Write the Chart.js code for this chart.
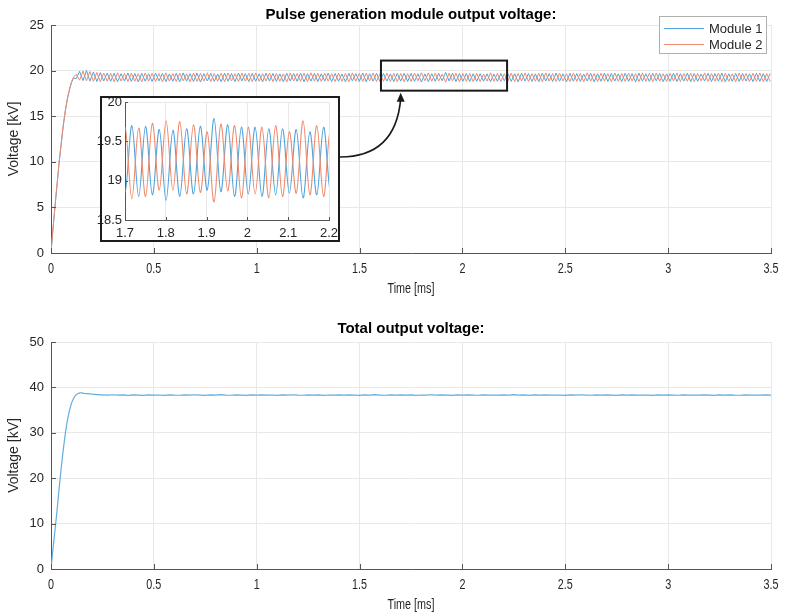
<!DOCTYPE html>
<html><head><meta charset="utf-8">
<script src="https://cdn.jsdelivr.net/npm/chart.js@4.4.1/dist/chart.umd.min.js"></script>
<style>
html,body{margin:0;padding:0;background:#fff;}
#wrap{position:relative;width:785px;height:615px;overflow:hidden;background:#fff;}
canvas{position:absolute;}
</style></head><body>
<div id="wrap">
<canvas id="top" width="785" height="307" style="left:0;top:0;width:785px;height:307px"></canvas>
<canvas id="bot" width="785" height="308" style="left:0;top:307px;width:785px;height:308px"></canvas>
<canvas id="ins" width="260" height="160" style="left:90px;top:90px;width:260px;height:160px"></canvas>
</div>
<script>
// ---------- DATA ----------
const seriesNames = ['Module 1', 'Module 2'];
const riseTime = [0, 0.01, 0.02, 0.03, 0.04, 0.05, 0.06, 0.07, 0.08, 0.09, 0.10, 0.11];
const module1Rise = [0, 2.7, 5.2, 7.6, 10.0, 12.0, 14.0, 15.6, 16.9, 17.9, 18.7, 19.2];
const module2Rise = [0, 2.8, 5.3, 7.7, 10.1, 12.1, 14.1, 15.7, 17.0, 18.0, 18.8, 19.3];
// steady state: one sample per half oscillation (peaks / troughs), starting at steadyStart
const steadyStart = 0.1221;
const steadyStep = 0.016786;
const module1Steady = [
19.10,19.92,18.90,20.02,18.84,19.85,18.80,19.78,18.86,19.72,
18.82,19.70,18.78,19.66,18.85,19.74,18.80,19.68,18.76,19.71,
18.84,19.65,18.81,19.73,18.87,19.69,18.79,19.64,18.83,19.70,
18.77,19.75,18.85,19.67,18.80,19.72,18.74,19.66,18.86,19.70,
18.82,19.63,18.78,19.71,18.84,19.68,18.80,19.74,18.87,19.66,
18.79,19.70,18.83,19.65,18.76,19.72,18.85,19.69,18.81,19.64,
18.78,19.71,18.86,19.67,18.82,19.73,18.77,19.66,18.84,19.70,
18.80,19.65,18.85,19.72,18.79,19.68,18.83,19.63,18.76,19.70,
18.86,19.67,18.81,19.74,18.78,19.66,18.84,19.71,18.80,19.68,
18.85,19.64,18.79,19.70,
18.85,19.70,18.80,19.69,18.82,19.65,18.75,19.64,18.80,19.66,
18.83,19.69,18.88,19.79,18.86,19.71,18.80,19.68,18.83,19.68,
18.80,19.66,18.82,19.66,18.84,19.65,18.78,19.62,18.82,19.68,
18.88,19.70,18.81,19.66,18.77,19.72,18.85,19.68,18.82,19.64,
18.79,19.71,18.86,19.67,18.80,19.73,18.83,19.65,18.77,19.70,
18.84,19.68,18.81,19.63,18.86,19.71,18.78,19.66,18.83,19.72,
18.80,19.69,18.85,19.64,18.79,19.70,18.82,19.67,18.76,19.73,
18.84,19.65,18.81,19.70,18.87,19.68,18.79,19.64,18.83,19.71,
18.80,19.66,18.85,19.72,18.78,19.68,18.82,19.63,18.86,19.70,
18.80,19.67,18.84,19.73,18.77,19.65,18.83,19.70,18.81,19.68,
18.85,19.64,18.79,19.71,18.82,19.66,18.80,19.69
];
const module2Steady = [
19.60,18.95,19.95,18.88,19.90,18.82,19.80,18.78,19.74,18.84,
19.70,18.80,19.76,18.86,19.68,18.79,19.72,18.83,19.66,18.77,
19.74,18.85,19.70,18.81,19.67,18.76,19.75,18.84,19.69,18.80,
19.72,18.87,19.65,18.78,19.73,18.82,19.70,18.85,19.76,18.79,
19.68,18.83,19.71,18.77,19.74,18.86,19.66,18.80,19.72,18.84,
19.69,18.78,19.75,18.82,19.67,18.85,19.73,18.79,19.70,18.83,
19.64,18.76,19.74,18.86,19.68,18.81,19.71,18.78,19.76,18.84,
19.69,18.80,19.73,18.85,19.66,18.79,19.72,18.82,19.70,18.77,
19.75,18.84,19.68,18.81,19.71,18.86,19.74,18.79,19.67,18.83,
19.72,18.80,19.69,18.78,
19.68,18.77,19.67,18.80,19.73,18.88,19.76,18.88,19.75,18.83,
19.71,18.85,19.62,18.73,19.72,18.87,19.70,18.78,19.68,18.83,
19.68,18.78,19.70,18.80,19.62,18.84,19.76,18.82,19.70,18.80,
19.66,18.82,19.72,18.78,19.69,18.85,19.74,18.80,19.67,18.83,
19.71,18.77,19.75,18.84,19.68,18.81,19.72,18.86,19.65,18.79,
19.73,18.82,19.70,18.76,19.76,18.84,19.68,18.80,19.71,18.85,
19.66,18.78,19.74,18.83,19.69,18.81,19.72,18.86,19.67,18.79,
19.75,18.82,19.70,18.77,19.73,18.84,19.66,18.80,19.71,18.85,
19.74,18.79,19.68,18.83,19.72,18.78,19.69,18.86,19.75,18.81,
19.67,18.84,19.72,18.79,19.70,18.82,19.65,18.77,19.73,18.85,
19.69,18.80,19.71,18.83,19.74,18.78,19.68,18.81
];
const totalRiseTime = [0, 0.01, 0.02, 0.03, 0.04, 0.05, 0.06, 0.07, 0.08, 0.09, 0.10, 0.11, 0.12, 0.13, 0.14, 0.15, 0.16];
const totalRise = [0, 4.6, 8.8, 13.2, 18.0, 22.4, 26.4, 30.0, 32.8, 35.0, 36.6, 37.6, 38.3, 38.6, 38.8, 38.8, 38.7];
const totalStart = 0.175;
const totalStep = 0.025;
const totalSteady = [
38.62,38.50,38.42,38.36,38.30,38.38,38.28,38.36,38.26,38.34,38.30,38.24,38.35,38.28,38.33,38.25,38.36,38.30,38.27,38.35,
38.29,38.38,38.31,38.26,38.36,38.30,38.40,38.32,38.27,38.37,38.31,38.25,38.34,38.29,38.36,38.28,38.33,38.26,38.35,38.30,
38.38,38.31,38.27,38.36,38.29,38.34,38.25,38.33,38.30,38.37,38.28,38.35,38.31,38.26,38.36,38.30,38.39,38.32,38.27,38.35,
38.30,38.37,38.29,38.34,38.26,38.33,38.31,38.38,38.28,38.35,38.30,38.25,38.34,38.29,38.37,38.31,38.27,38.36,38.30,38.33,
38.28,38.36,38.31,38.39,38.29,38.34,38.26,38.35,38.30,38.37,38.28,38.33,38.31,38.25,38.36,38.30,38.38,38.32,38.27,38.34,
38.29,38.36,38.31,38.26,38.35,38.30,38.37,38.28,38.33,38.30,38.24,38.34,38.29,38.36,38.31,38.27,38.35,38.30,38.33,38.28,
38.36,38.31,38.26,38.34,38.29,38.37,38.30,38.27,38.35,38.31,38.33,38.28,38.34,38.30
];
const xTicks = [0, 0.5, 1, 1.5, 2, 2.5, 3, 3.5];
const yTicksTop = [0, 5, 10, 15, 20, 25];
const yTicksBottom = [0, 10, 20, 30, 40, 50];
const insetXTicks = [1.7, 1.8, 1.9, 2, 2.1, 2.2];
const insetYTicks = [18.5, 19, 19.5, 20];
const zoomBox = {t0: 1.604, t1: 2.217, v0: 17.8, v1: 21.1};

// ---------- STYLE ----------
const FONT = '"Liberation Sans", Arial, Helvetica, sans-serif';
const GRID = '#e8e8e8', AXIS = '#555555', TXT = '#262626';
const BLUE = '#4fa3dc', RED = '#ef8a6e', TOTAL = '#62ade0';

function buildSeries(tRise, vRise, start, step, vSteady) {
  const pts = tRise.map((t, i) => ({x: t, y: vRise[i]}));
  vSteady.forEach((v, i) => pts.push({x: start + i * step, y: v}));
  return pts;
}
const m1 = buildSeries(riseTime, module1Rise, steadyStart, steadyStep, module1Steady);
const m2 = buildSeries(riseTime, module2Rise, steadyStart, steadyStep, module2Steady);
const tot = buildSeries(totalRiseTime, totalRise, totalStart, totalStep, totalSteady);

function drawScaled(ctx, text, x, y, font, sx) {
  ctx.save(); ctx.translate(x, y); ctx.scale(sx, 1);
  ctx.font = font; ctx.textAlign = 'center'; ctx.textBaseline = 'middle';
  ctx.fillText(text, 0, 0); ctx.restore();
}
const fmt = v => String(Math.round(v * 1000) / 1000);

function decoPlugin(o) {
  return { id: 'deco', afterDraw(chart) {
    const ctx = chart.ctx, xs = chart.scales.x, ys = chart.scales.y, a = chart.chartArea;
    ctx.save();
    ctx.strokeStyle = AXIS; ctx.lineWidth = 1; ctx.beginPath();
    o.xTicks.forEach(v => { const px = Math.round(xs.getPixelForValue(v)) + 0.5; ctx.moveTo(px, a.bottom); ctx.lineTo(px, a.bottom - o.tl); });
    o.yTicks.forEach(v => { const py = Math.round(ys.getPixelForValue(v)) + 0.5; ctx.moveTo(a.left, py); ctx.lineTo(a.left + o.tl, py); });
    ctx.stroke();
    if (o.main) {
      ctx.fillStyle = TXT;
      o.xTicks.forEach(v => drawScaled(ctx, fmt(v), xs.getPixelForValue(v), a.bottom + 16, '15px ' + FONT, 0.72));
      drawScaled(ctx, 'Time [ms]', (a.left + a.right) / 2, a.bottom + 36, '15px ' + FONT, 0.72);
      ctx.save(); ctx.translate(14, (a.top + a.bottom) / 2); ctx.rotate(-Math.PI / 2);
      ctx.font = '14px ' + FONT; ctx.textAlign = 'center'; ctx.textBaseline = 'middle';
      ctx.fillText('Voltage [kV]', 0, 0); ctx.restore();
      ctx.fillStyle = '#000'; ctx.font = 'bold 15px ' + FONT; ctx.textAlign = 'center'; ctx.textBaseline = 'alphabetic';
      ctx.fillText(o.title, (a.left + a.right) / 2, o.titleY);
    }
    if (o.extra) o.extra(ctx, xs, ys, a, chart);
    ctx.restore();
  }};
}

function opts(c) {
  return {
    responsive: false, animation: false, devicePixelRatio: 1,
    layout: {padding: c.pad},
    plugins: {legend: {display: false}, title: {display: false}, tooltip: {enabled: false}},
    elements: {point: {radius: 0}, line: {tension: 0, borderWidth: c.lw}},
    scales: {
      x: {type: 'linear', min: c.xmin, max: c.xmax,
          afterBuildTicks: s => { s.ticks = c.xTicks.map(v => ({value: v})); },
          afterFit: s => { s.height = c.xh; },
          ticks: c.xTickOpt, grid: {color: GRID, drawTicks: false}, border: {display: true, color: AXIS}},
      y: {type: 'linear', min: c.ymin, max: c.ymax,
          afterBuildTicks: s => { s.ticks = c.yTicks.map(v => ({value: v})); },
          afterFit: s => { s.width = c.yw; },
          ticks: {font: {family: FONT, size: 13}, color: TXT, padding: c.ypad, callback: v => fmt(v)},
          grid: {color: GRID, drawTicks: false}, border: {display: true, color: AXIS}}
    }
  };
}

// ---------- TOP CHART ----------
new Chart(document.getElementById('top'), {
  type: 'line',
  data: {datasets: [
    {label: seriesNames[0], data: m1, borderColor: BLUE, order: 1},
    {label: seriesNames[1], data: m2, borderColor: RED, order: 0}
  ]},
  options: opts({pad: {top: 25, right: 14, left: 0, bottom: 0}, lw: 1, xmin: 0, xmax: 3.5, xTicks: xTicks, xh: 54,
                 xTickOpt: {display: false}, ymin: 0, ymax: 25, yTicks: yTicksTop, yw: 51, ypad: 7}),
  plugins: [decoPlugin({main: true, xTicks: xTicks, yTicks: yTicksTop, tl: 5,
    title: 'Pulse generation module output voltage:', titleY: 19,
    extra(ctx, xs, ys, a) {
      // zoom rectangle
      const x0 = xs.getPixelForValue(zoomBox.t0), x1 = xs.getPixelForValue(zoomBox.t1);
      const y0 = ys.getPixelForValue(zoomBox.v1), y1 = ys.getPixelForValue(zoomBox.v0);
      ctx.strokeStyle = '#1a1a1a'; ctx.lineWidth = 2;
      ctx.strokeRect(x0, y0, x1 - x0, y1 - y0);
      // arrow from inset to rectangle
      const tipX = xs.getPixelForValue(1.70), tipY = y1 + 2;
      ctx.lineWidth = 1.6; ctx.beginPath();
      ctx.moveTo(340, 157); ctx.quadraticCurveTo(tipX - 5, 157, tipX, tipY + 6); ctx.stroke();
      ctx.fillStyle = '#1a1a1a'; ctx.beginPath();
      ctx.moveTo(tipX, tipY); ctx.lineTo(tipX - 4, tipY + 9); ctx.lineTo(tipX + 4, tipY + 9); ctx.closePath(); ctx.fill();
      // legend
      ctx.fillStyle = '#fff'; ctx.fillRect(659, 16, 108, 38);
      ctx.strokeStyle = '#b0b0b0'; ctx.lineWidth = 1; ctx.strokeRect(659.5, 16.5, 107, 37);
      const cols = [BLUE, RED];
      seriesNames.forEach((n, i) => {
        const y = 28 + i * 16;
        ctx.strokeStyle = cols[i]; ctx.lineWidth = 1; ctx.beginPath(); ctx.moveTo(664, y + 0.5); ctx.lineTo(704, y + 0.5); ctx.stroke();
        ctx.fillStyle = TXT; ctx.font = '13px ' + FONT; ctx.textAlign = 'left'; ctx.textBaseline = 'middle';
        ctx.fillText(n, 709, y + 1);
      });
    }})]
});

// ---------- BOTTOM CHART ----------
new Chart(document.getElementById('bot'), {
  type: 'line',
  data: {datasets: [{label: 'Total', data: tot, borderColor: TOTAL}]},
  options: opts({pad: {top: 35, right: 14, left: 0, bottom: 0}, lw: 1.2, xmin: 0, xmax: 3.5, xTicks: xTicks, xh: 46,
                 xTickOpt: {display: false}, ymin: 0, ymax: 50, yTicks: yTicksBottom, yw: 51, ypad: 7}),
  plugins: [decoPlugin({main: true, xTicks: xTicks, yTicks: yTicksBottom, tl: 5,
    title: 'Total output voltage:', titleY: 26})]
});

// ---------- INSET ----------
const insetBg = { id: 'insetBg', beforeDraw(chart) {
  const ctx = chart.ctx; ctx.save(); ctx.fillStyle = '#fff'; ctx.fillRect(10, 6, 240, 146); ctx.restore();
}};
const insetOpts = opts({pad: {top: 12, right: 21, left: 0, bottom: 0}, lw: 1.1, xmin: 1.7, xmax: 2.2, xTicks: insetXTicks, xh: 30,
  xTickOpt: {font: {family: FONT, size: 13}, color: TXT, padding: 6, maxRotation: 0, autoSkip: false, callback: v => fmt(v)},
  ymin: 18.5, ymax: 20, yTicks: insetYTicks, yw: 35, ypad: 3});
new Chart(document.getElementById('ins'), {
  type: 'line',
  data: {datasets: [
    {label: seriesNames[0], data: m1, borderColor: BLUE, tension: 0.35, order: 1},
    {label: seriesNames[1], data: m2, borderColor: RED, tension: 0.35, order: 0}
  ]},
  options: insetOpts,
  plugins: [insetBg, decoPlugin({main: false, xTicks: insetXTicks, yTicks: insetYTicks, tl: 3,
    extra(ctx) { ctx.strokeStyle = '#1c1c1c'; ctx.lineWidth = 2; ctx.strokeRect(11, 7, 238, 144); }})]
});
</script>
</body></html>
